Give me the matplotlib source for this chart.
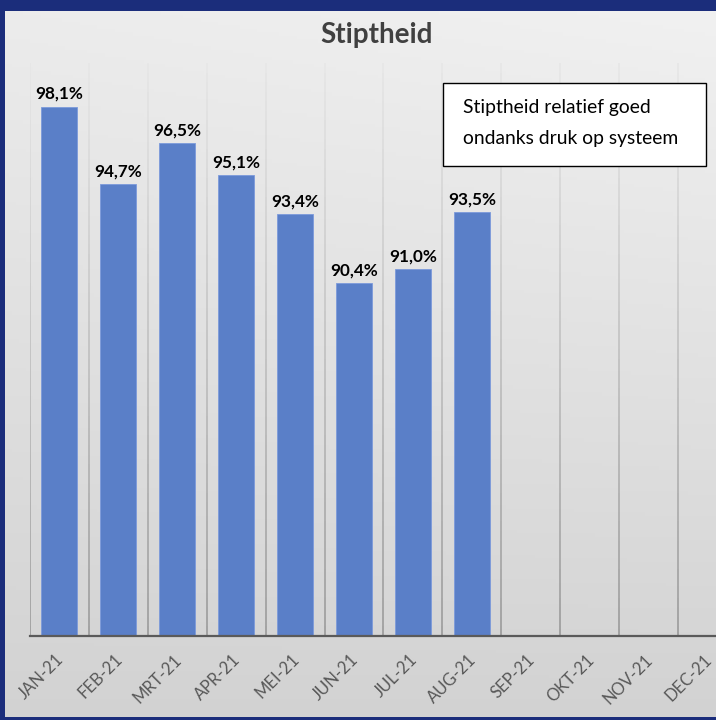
import numpy as np
import matplotlib
matplotlib.use("Agg")
import matplotlib.pyplot as plt
import matplotlib.transforms as mtransforms
from matplotlib.patches import Rectangle
from matplotlib.collections import LineCollection

months = ["JAN-21", "FEB-21", "MRT-21", "APR-21", "MEI-21", "JUN-21",
          "JUL-21", "AUG-21", "SEP-21", "OKT-21", "NOV-21", "DEC-21"]
values = [98.1, 94.7, 96.5, 95.1, 93.4, 90.4, 91.0, 93.5]
labels = ["98,1%", "94,7%", "96,5%", "95,1%", "93,4%", "90,4%", "91,0%", "93,5%"]
title = "Stiptheid"
note = "Stiptheid relatief goed\nondanks druk op systeem"

W, H = 716, 720
fig = plt.figure(figsize=(W / 100, H / 100), dpi=100)
fig.patch.set_facecolor("#1B2D7B")

# background gradient panel
bg = fig.add_axes([5 / W, 3 / H, (W - 5) / W, (H - 3 - 11) / H])
bg.set_axis_off()
ny, nx = 200, 200
yy, xx = np.mgrid[0:1:ny * 1j, 0:1:nx * 1j]
val = 0.945 - 0.12 * yy - 0.02 * (1 - xx) * (1 - yy)
val = np.clip(val, 0, 1)
bg.imshow(np.dstack([val, val, val]), aspect="auto", extent=[0, 1, 0, 1], origin="upper")
bg.set_xlim(0, 1)
bg.set_ylim(0, 1)

font = "Lato"

ax = fig.add_axes([30 / W, (H - 636) / H, 707 / W, (636 - 63) / H])
ax.set_facecolor("none")
ax.set_xlim(-0.5, len(months) - 0.5)
ax.set_ylim(75, 100)

# gridlines with gradient
segs, cols = [], []
nseg = 60
ys = np.linspace(100, 75, nseg + 1)
for b in np.arange(-0.5, len(months), 1.0):
    for i in range(nseg):
        segs.append([(b, ys[i]), (b, ys[i + 1])])
        t = i / nseg
        c = 0.90 - 0.32 * t
        cols.append((c, c, c))
ax.add_collection(LineCollection(segs, colors=cols, linewidths=1.1, zorder=0))

x = np.arange(len(values))
ax.bar(x, values, width=0.61, color="#5A7FC8", edgecolor="#7C9ADB", linewidth=0.6, zorder=2)
for xi, v, lab in zip(x, values, labels):
    ax.annotate(lab, (xi, v), xytext=(0, 3.5), textcoords="offset points",
                ha="center", va="bottom", fontsize=12.3, fontweight="bold",
                family=font, color="#000000", zorder=3)

for s in ["top", "right", "left"]:
    ax.spines[s].set_visible(False)
ax.spines["bottom"].set_color("#5A5A5A")
ax.spines["bottom"].set_linewidth(1.6)
ax.set_yticks([])
ax.set_xticks(np.arange(len(months)))
ax.set_xticklabels(months, rotation=45, ha="right", rotation_mode="anchor",
                   fontsize=12, family=font, color="#595959")
ax.tick_params(axis="x", length=0, pad=11)
off = mtransforms.ScaledTranslation(-4 / 100, 0, fig.dpi_scale_trans)
for lbl in ax.get_xticklabels():
    lbl.set_transform(lbl.get_transform() + off)

fig.text(377 / W, 1 - 35 / H, title, ha="center", va="center", fontsize=20,
         fontweight="bold", family=font, color="#404040")

# note box
fig.patches.append(Rectangle((443 / W, 1 - 166 / H), (706 - 443) / W, (166 - 83) / H,
                             transform=fig.transFigure, facecolor="white",
                             edgecolor="#000000", linewidth=1.0, zorder=5))
fig.text(463 / W, 1 - 123 / H, note, ha="left", va="center", fontsize=13.9,
         family=font, color="#000000", linespacing=1.95, zorder=6)

fig.savefig("out.png", dpi=100, facecolor=fig.get_facecolor())
